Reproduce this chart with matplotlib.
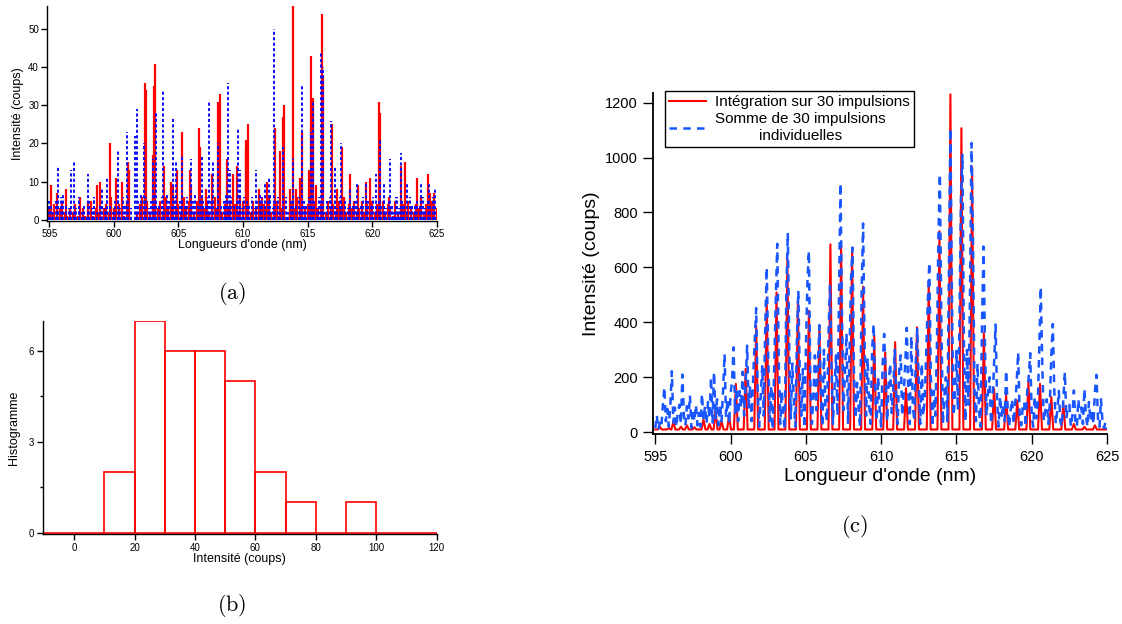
import matplotlib
matplotlib.use("Agg")
import matplotlib.pyplot as plt
import numpy as np

plt.rcParams.update({
    "font.family": ["Liberation Sans", "DejaVu Sans"],
    "mathtext.fontset": "cm",
    "axes.linewidth": 1.0,
})

RED = "#ff0000"
BLUE_A = "#0a0aff"
BLUE_C = "#1a56ff"

# --- (a) single pulse spectra: discrete spikes (nm, counts) ---
red_a_nm = [595.1, 595.6, 596.3, 597.4, 598.0, 598.7, 598.9, 599.7, 600.2, 600.6,
            601.1, 601.2, 602.4, 602.5, 603.0, 603.1, 603.15, 603.85, 604.4, 604.6,
            604.9, 605.25, 605.9, 606.0, 606.6, 606.7, 607.1, 607.6, 608.1, 608.2,
            608.75, 609.2, 609.5, 610.2, 610.25, 610.4, 611.2, 611.5, 611.85, 612.45,
            612.9, 613.1, 613.2, 613.6, 613.85, 614.1, 614.4, 614.55, 615.1, 615.3,
            615.4, 615.65, 616.1, 616.2, 616.9, 617.3, 617.65, 618.3, 618.9, 619.5,
            619.85, 620.55, 620.6, 621.3, 622.2, 622.55, 623.5, 623.8, 624.3, 624.5,
            624.8]
red_a_counts = [9, 7, 8, 6, 5, 9, 10, 20, 11, 10,
                15, 13, 36, 34, 17, 35, 41, 14, 10, 9,
                13, 23, 13, 9, 24, 19, 8, 12, 31, 33,
                16, 12, 14, 19, 21, 25, 8, 6, 10, 24,
                18, 27, 30, 8, 56, 8, 11, 23, 13, 43,
                32, 9, 54, 38, 25, 8, 19, 12, 9, 10,
                11, 31, 28, 6, 14, 15, 11, 6, 12, 7,
                7]

blue_a_nm = [595.0, 595.7, 596.1, 596.7, 596.95, 597.3, 598.0, 598.5, 599.1, 599.5,
             600.3, 601.0, 601.65, 601.8, 602.35, 603.0, 603.3, 603.8, 604.6, 604.8,
             605.3, 606.0, 606.85, 607.4, 607.7, 608.1, 608.8, 609.0, 609.6, 609.8,
             611.0, 611.3, 611.7, 612.0, 612.4, 613.1, 613.9, 614.6, 615.25, 615.4,
             616.0, 616.2, 616.8, 617.1, 617.6, 618.3, 618.8, 619.5, 620.3, 620.6,
             620.9, 621.4, 621.85, 622.2, 622.7, 623.3, 623.8, 624.4, 624.9]
blue_a_counts = [5, 14, 7, 13, 15, 6, 12, 6, 8, 11,
                 18, 23, 22, 29, 20, 16, 28, 34, 27, 15,
                 17, 16, 17, 31, 15, 20, 36, 13, 24, 13,
                 13, 7, 10, 11, 50, 19, 16, 35, 23, 31,
                 44, 40, 26, 14, 20, 8, 10, 10, 12, 21,
                 10, 16, 6, 17.5, 10, 4, 10, 10, 8]

# low-level counts every 0.2 nm from 595 to 625
red_a_floor = [3, 2, 4, 1, 3, 5, 2, 1, 3, 2,
               4, 1, 2, 3, 1, 2, 5, 1, 3, 2,
               1, 3, 4, 2, 6, 3, 2, 4, 3, 1,
               5, 3, 0, 0, 2, 4, 6, 3, 5, 2,
               6, 4, 3, 5, 2, 6, 3, 4, 5, 3,
               4, 2, 6, 3, 5, 4, 2, 5, 3, 6,
               3, 5, 2, 4, 6, 3, 5, 2, 4, 3,
               5, 3, 4, 2, 6, 5, 3, 4, 2, 5,
               3, 2, 5, 4, 3, 6, 2, 4, 5, 1,
               3, 5, 0, 2, 4, 3, 6, 2, 5, 3,
               4, 6, 2, 5, 3, 4, 0, 2, 5, 3,
               4, 2, 5, 3, 6, 2, 4, 3, 5, 2,
               3, 5, 2, 4, 3, 5, 2, 4, 3, 5,
               2, 4, 3, 1, 5, 2, 3, 4, 2, 5,
               3, 2, 4, 3, 5, 2, 4, 3, 5, 2,
               3]
blue_a_floor = [4, 2, 5, 3, 6, 2, 4, 3, 5, 2,
                3, 5, 2, 4, 1, 5, 3, 6, 2, 4,
                5, 3, 6, 4, 2, 5, 7, 3, 6, 4,
                6, 3, 0, 2, 5, 7, 4, 6, 3, 5,
                7, 5, 4, 6, 3, 7, 5, 4, 6, 3,
                5, 7, 4, 6, 3, 5, 7, 4, 6, 5,
                4, 6, 5, 7, 3, 6, 4, 5, 7, 4,
                6, 4, 5, 7, 3, 6, 5, 4, 6, 3,
                5, 3, 6, 4, 5, 7, 3, 5, 6, 2,
                4, 6, 2, 5, 7, 4, 6, 3, 5, 4,
                6, 4, 5, 3, 6, 4, 2, 5, 6, 4,
                5, 3, 6, 4, 5, 3, 6, 4, 5, 3,
                4, 6, 3, 5, 4, 6, 3, 5, 4, 6,
                3, 5, 4, 2, 6, 3, 5, 4, 3, 6,
                4, 3, 5, 4, 6, 3, 5, 4, 6, 3,
                4]

# --- (b) histogram of integrated counts over 30 pulses ---
hist_left = [-10, 0, 10, 20, 30, 40, 50, 60, 70, 80, 90, 100, 110]
hist_counts = [0, 0, 2, 7, 6, 6, 5, 2, 1, 0, 1, 0, 0]

# --- (c) integrated spectrum: line centres (nm) and heights ---
red_c_nm = [595.3, 595.9, 596.2, 596.7, 597.1, 597.6, 598.2, 598.6, 599.0, 599.4,
            599.9, 600.35, 601.0, 601.7, 602.4, 603.05, 603.77, 604.47, 605.2, 605.9,
            606.63, 607.34, 608.07, 608.8, 609.54, 610.27, 610.93, 611.65, 612.38, 613.16,
            613.87, 614.6, 615.33, 616.04, 616.82, 617.5, 618.3, 619.04, 619.78, 620.55,
            621.3, 622.1, 622.8, 623.5, 624.2]
red_c_counts = [20, 15, 37, 20, 25, 18, 46, 30, 80, 40,
                60, 176, 231, 388, 490, 509, 630, 479, 442, 388,
                684, 684, 672, 530, 352, 291, 328, 160, 382, 551,
                732, 1230, 1107, 964, 361, 158, 134, 116, 182, 176,
                128, 104, 30, 20, 25]

# sum of individual pulses, sampled every 0.1 nm from 595 to 625
blue_c_counts = [15, 62, 10, 35, 20, 95, 164, 40, 85, 20,
                 100, 222, 35, 90, 20, 75, 100, 30, 210, 60,
                 25, 95, 50, 134, 15, 85, 40, 100, 25, 70,
                 20, 140, 45, 95, 30, 110, 50, 200, 35, 219,
                 50, 120, 25, 100, 40, 150, 285, 55, 120, 30,
                 140, 190, 309, 70, 160, 40, 150, 90, 220, 60,
                 180, 315, 90, 170, 40, 200, 330, 452, 150, 20,
                 130, 240, 60, 380, 600, 280, 40, 170, 10, 250,
                 480, 686, 260, 30, 150, 60, 10, 500, 726, 300,
                 50, 250, 120, 20, 330, 515, 200, 60, 230, 15,
                 300, 540, 660, 180, 30, 130, 280, 80, 250, 390,
                 140, 20, 300, 90, 40, 350, 533, 250, 30, 160,
                 280, 60, 500, 907, 420, 80, 220, 360, 30, 300,
                 560, 672, 200, 50, 180, 90, 20, 500, 760, 330,
                 60, 270, 100, 30, 300, 394, 150, 40, 200, 80,
                 20, 250, 358, 200, 40, 180, 250, 70, 150, 300,
                 120, 30, 230, 280, 60, 140, 250, 380, 150, 30,
                 350, 100, 40, 260, 376, 180, 30, 250, 60, 120,
                 300, 480, 618, 200, 20, 150, 60, 300, 700, 940,
                 400, 30, 130, 200, 40, 600, 1107, 500, 60, 120,
                 300, 80, 400, 850, 1010, 300, 40, 300, 100, 500,
                 1053, 700, 150, 40, 250, 80, 20, 400, 676, 300,
                 60, 150, 200, 30, 110, 250, 392, 120, 20, 130,
                 60, 100, 40, 225, 90, 20, 80, 120, 30, 100,
                 180, 291, 60, 25, 90, 110, 20, 150, 200, 288,
                 60, 20, 130, 50, 100, 300, 529, 250, 40, 80,
                 120, 30, 100, 280, 394, 150, 30, 80, 150, 40,
                 20, 120, 219, 50, 90, 100, 20, 60, 152, 40,
                 20, 120, 50, 90, 30, 158, 60, 20, 110, 40,
                 80, 30, 150, 209, 50, 20, 120, 40, 15, 37,
                 10]


def line_profile(centres, heights, base, half_width, lo, hi):
    """Triangular line shapes sitting on a flat baseline."""
    xs, ys = [lo], [base]
    for c, h in zip(centres, heights):
        xs += [c - half_width, c, c + half_width]
        ys += [base, h, base]
    xs.append(hi)
    ys.append(base)
    return xs, ys


def style_axes(ax, tick_size, tick_len):
    for side in ("top", "right"):
        ax.spines[side].set_visible(False)
    ax.tick_params(direction="out", labelsize=tick_size, length=tick_len,
                   width=1.0, pad=2)


fig = plt.figure(figsize=(11.22, 6.24), dpi=100)

# (a)
ax_a = fig.add_axes([0.0422, 0.6463, 0.3473, 0.344])
floor_nm = np.linspace(595, 625, len(red_a_floor))
ax_a.vlines(floor_nm, 0, red_a_floor, colors=RED, lw=1.6)
ax_a.vlines(red_a_nm, 0, red_a_counts, colors=RED, lw=1.6)
ax_a.vlines(floor_nm + 0.1, 0, blue_a_floor, colors=BLUE_A, lw=1.4,
            linestyles=[(0, (1.6, 1.2))])
ax_a.vlines(blue_a_nm, 0, blue_a_counts, colors=BLUE_A, lw=1.4,
            linestyles=[(0, (1.6, 1.2))])
ax_a.set_xlim(594.85, 625.02)
ax_a.set_ylim(-0.3, 56.1)
ax_a.set_xticks([595, 600, 605, 610, 615, 620, 625])
ax_a.set_yticks([0, 10, 20, 30, 40, 50])
style_axes(ax_a, 7, 4)
ax_a.set_xlabel("Longueurs d'onde (nm)", fontsize=9, labelpad=0)
ax_a.set_ylabel("Intensité (coups)", fontsize=9, labelpad=3)

# (b)
ax_b = fig.add_axes([0.0381, 0.1442, 0.3512, 0.3418])
ax_b.bar(hist_left, hist_counts, width=10, align="edge",
         facecolor="none", edgecolor=RED, lw=1.2)
ax_b.set_xlim(-10.36, 120)
ax_b.set_ylim(-0.05, 7.0)
ax_b.set_xticks([0, 20, 40, 60, 80, 100, 120])
ax_b.set_yticks([0, 3, 6])
ax_b.set_yticks([1.5, 4.5], minor=True)
style_axes(ax_b, 7, 4.5)
ax_b.tick_params(axis="y", which="minor", length=2.5, width=1.0)
ax_b.set_xlabel("Intensité (coups)", fontsize=9, labelpad=0)
ax_b.set_ylabel("Histogramme", fontsize=9, labelpad=6)

# (c)
ax_c = fig.add_axes([0.5823, 0.304, 0.4046, 0.5474])
rx, ry = line_profile(red_c_nm, red_c_counts, 10, 0.13, 595.0, 625.0)
ax_c.plot(rx, ry, color=RED, lw=1.5, label="Intégration sur 30 impulsions")
blue_c_nm = np.linspace(595, 625, len(blue_c_counts))
ax_c.plot(blue_c_nm, blue_c_counts, color=BLUE_C, lw=1.8,
          linestyle=(0, (3, 2.5)),
          label="Somme de 30 impulsions\nindividuelles")
ax_c.set_xlim(594.87, 625.02)
ax_c.set_ylim(-7.6, 1236)
ax_c.set_xticks([595, 600, 605, 610, 615, 620, 625])
ax_c.set_yticks([0, 200, 400, 600, 800, 1000, 1200])
style_axes(ax_c, 10.5, 7)
ax_c.tick_params(pad=4)
for s in ax_c.spines.values():
    s.set_linewidth(1.3)
ax_c.set_xlabel("Longueur d'onde (nm)", fontsize=14, labelpad=3)
ax_c.set_ylabel("Intensité (coups)", fontsize=14, labelpad=4)
leg = ax_c.legend(loc="upper left", bbox_to_anchor=(0.025, 1.006),
                  borderaxespad=0, fontsize=11, fancybox=False,
                  framealpha=1, edgecolor="black", handlelength=2.4,
                  handletextpad=0.6, labelspacing=0.2, borderpad=0.3)
leg.get_frame().set_linewidth(1.0)
for t in leg.get_texts():
    t.set_multialignment("center")

# panel captions
fig.text(0.2065, 0.529, r"$\mathrm{(a)}$", fontsize=16, ha="center", va="center")
fig.text(0.2065, 0.029, r"$\mathrm{(b)}$", fontsize=16, ha="center", va="center")
fig.text(0.762, 0.157, r"$\mathrm{(c)}$", fontsize=16, ha="center", va="center")

fig.savefig("out.png", dpi=100)
